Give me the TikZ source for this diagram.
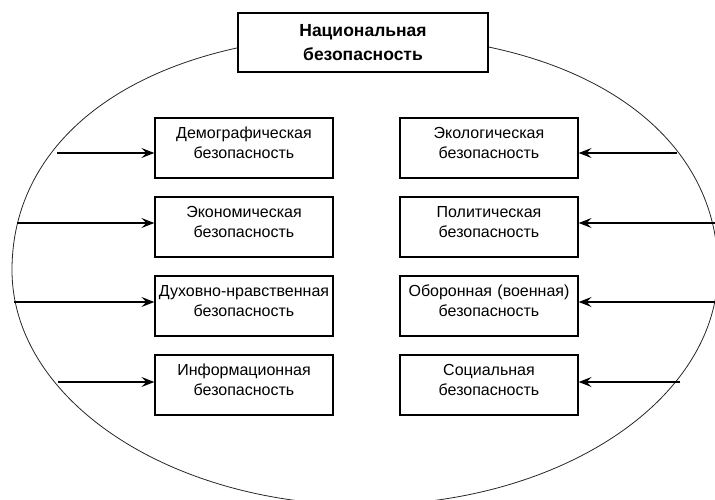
\documentclass[tikz,border=0pt]{standalone}
\usepackage{fontspec}
\setmainfont{Liberation Sans}
\usetikzlibrary{arrows.meta}
\begin{document}
\begin{tikzpicture}[x=1pt,y=-1pt,
  sbox/.style={draw=black, line width=1.3pt, fill=white, minimum width=178pt, minimum height=60pt,
    inner xsep=0pt, inner ysep=0pt, text width=178pt, align=center,
    font=\fontsize{16}{20}\selectfont},
  tbox/.style={draw=black, line width=1.3pt, fill=white, minimum width=250pt, minimum height=59pt,
    inner xsep=0pt, inner ysep=0pt, text width=250pt, align=center,
    font=\fontsize{17.5}{24}\selectfont\bfseries},
  arr/.style={line width=1.2pt, -{Stealth[length=13pt,width=10pt,inset=5pt]}},
  oval/.style={draw=black!85, line width=0.8pt}]
\useasboundingbox (0,0) rectangle (715,500);
\begin{scope}
\clip (0,0) rectangle (715,500);
\draw[oval] (12,270) .. controls (12,129) and (153,35) .. (365,35)
  .. controls (577,35) and (718,129) .. (718,270)
  .. controls (718,400) and (560,505) .. (365,505)
  .. controls (170,505) and (12,400) .. (12,270) -- cycle;
\end{scope}

\node[tbox] (nb) at (363,42.5) {Национальная\\безопасность};

\node[sbox] (d) at (244,148) {Демографическая\\безопасность\\[-10pt]\mbox{}};
\node[sbox] (e) at (244,227) {Экономическая\\безопасность\\[-10pt]\mbox{}};
\node[sbox] (h) at (244,306) {Духовно-нравственная\\безопасность\\[-10pt]\mbox{}};
\node[sbox] (i) at (244,385) {Информационная\\безопасность\\[-10pt]\mbox{}};

\node[sbox] (ek) at (489,148) {Экологическая\\безопасность\\[-10pt]\mbox{}};
\node[sbox] (p) at (489,227) {Политическая\\безопасность\\[-10pt]\mbox{}};
\node[sbox] (o) at (489,306) {Оборонная (военная)\\безопасность\\[-10pt]\mbox{}};
\node[sbox] (s) at (489,385) {Социальная\\безопасность\\[-10pt]\mbox{}};

\coordinate (s1) at (57,153);
\coordinate (s2) at (17,223);
\coordinate (s3) at (14,302);
\coordinate (s4) at (58,382);
\coordinate (r1) at (677,153);
\coordinate (r2) at (715,223);
\coordinate (r3) at (715,302);
\coordinate (r4) at (680,382);

\draw[arr] (s1) -- (s1 -| d.west);
\draw[arr] (s2) -- (s2 -| e.west);
\draw[arr] (s3) -- (s3 -| h.west);
\draw[arr] (s4) -- (s4 -| i.west);
\draw[arr] (r1) -- (r1 -| ek.east);
\draw[arr] (r2) -- (r2 -| p.east);
\draw[arr] (r3) -- (r3 -| o.east);
\draw[arr] (r4) -- (r4 -| s.east);
\end{tikzpicture}
\end{document}
